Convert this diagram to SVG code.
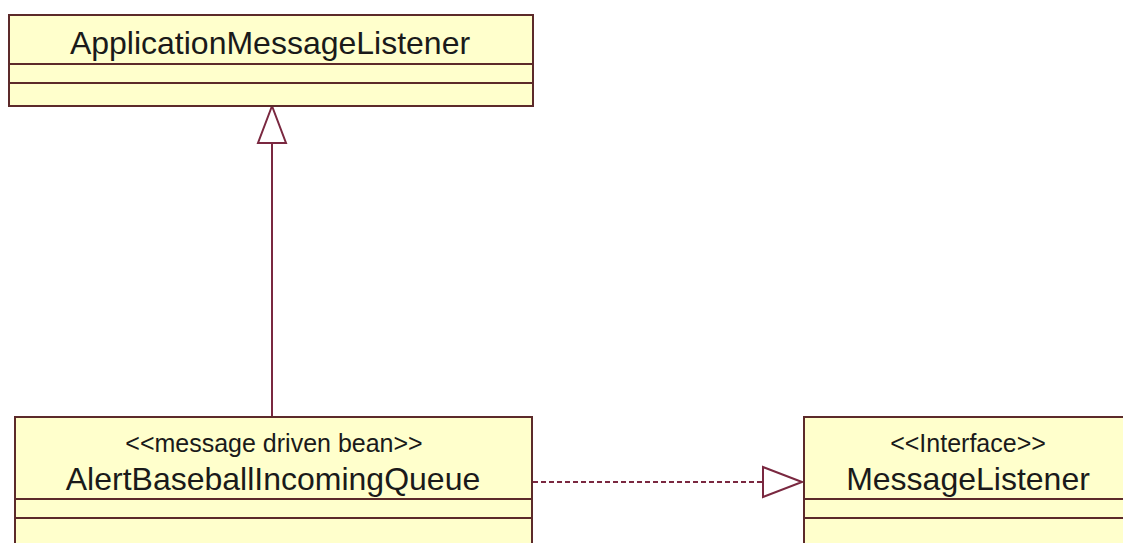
<svg xmlns="http://www.w3.org/2000/svg" width="1123" height="543" viewBox="0 0 1123 543">
  <style>
    .cls { fill: #FFFFCC; stroke: #5C2A2A; stroke-width: 2; }
    .div { stroke: #5C2A2A; stroke-width: 2; fill: none; }
    .name { font-family: "Liberation Sans", Arial, sans-serif; font-size: 32px; fill: #1a1a1a; text-anchor: middle; }
    .stereo { font-family: "Liberation Sans", Arial, sans-serif; font-size: 25px; fill: #1a1a1a; text-anchor: middle; }
    .conn { stroke: #7A2840; stroke-width: 2; fill: none; }
    .head { stroke: #7A2840; stroke-width: 2; fill: #FFFFFF; stroke-linejoin: miter; }
  </style>
  <rect width="1123" height="543" fill="#FFFFFF"/>

  <!-- connectors -->
  <g id="connectors">
    <!-- generalization: AlertBaseballIncomingQueue -> ApplicationMessageListener -->
    <line class="conn" x1="272" y1="143" x2="272" y2="417"/>
    <polygon class="head" points="272,106 258,143 286,143"/>
    <!-- realization: AlertBaseballIncomingQueue -> MessageListener -->
    <line class="conn" x1="533" y1="482" x2="763" y2="482" stroke-dasharray="5,3"/>
    <polygon class="head" points="802,482 763,467 763,497"/>
  </g>

  <g id="ApplicationMessageListener">
    <rect class="cls" x="9" y="15" width="524" height="91"/>
    <line class="div" x1="9" y1="64" x2="533" y2="64"/>
    <line class="div" x1="9" y1="83" x2="533" y2="83"/>
    <text class="name" x="270" y="54">ApplicationMessageListener</text>
  </g>

  <g id="AlertBaseballIncomingQueue">
    <rect class="cls" x="15" y="417" width="517" height="140"/>
    <line class="div" x1="15" y1="499" x2="532" y2="499"/>
    <line class="div" x1="15" y1="518" x2="532" y2="518"/>
    <text class="stereo" x="274" y="452">&lt;&lt;message driven bean&gt;&gt;</text>
    <text class="name" x="273" y="490">AlertBaseballIncomingQueue</text>
  </g>

  <g id="MessageListener">
    <rect class="cls" x="804" y="417" width="328" height="140"/>
    <line class="div" x1="804" y1="499" x2="1132" y2="499"/>
    <line class="div" x1="804" y1="518" x2="1132" y2="518"/>
    <text class="stereo" x="968" y="452">&lt;&lt;Interface&gt;&gt;</text>
    <text class="name" x="968" y="490">MessageListener</text>
  </g>
</svg>
